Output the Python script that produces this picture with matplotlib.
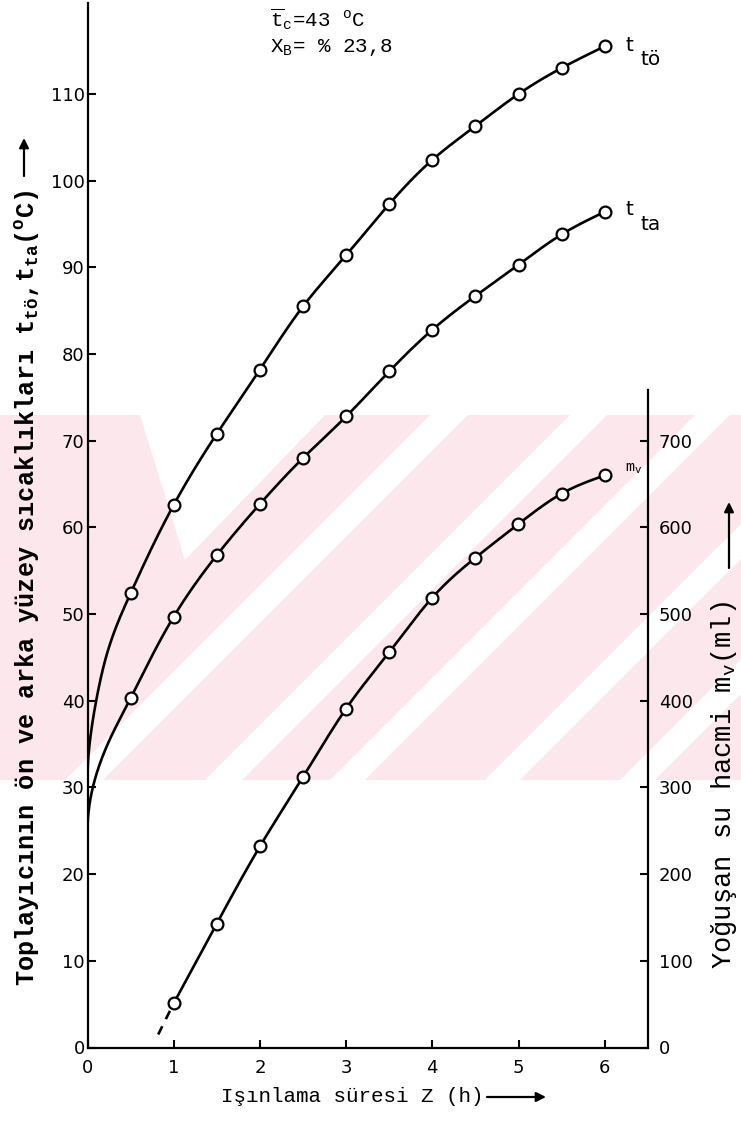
import numpy as np
import matplotlib
matplotlib.use("Agg")
import matplotlib.pyplot as plt
from matplotlib.patches import Rectangle, Polygon, FancyArrowPatch

# ---------------- data ----------------
x_t = [0.5, 1.0, 1.5, 2.0, 2.5, 3.0, 3.5, 4.0, 4.5, 5.0, 5.5, 6.0]
t_to = [52.4, 62.6, 70.8, 78.2, 85.5, 91.4, 97.3, 102.4, 106.3, 110.0, 113.0, 115.5]
t_ta = [40.3, 49.7, 56.8, 62.7, 68.0, 72.8, 78.0, 82.8, 86.7, 90.3, 93.8, 96.4]

# start of the hand-drawn curves near Z = 0 (traced, no markers)
t_to_lead_x = [0.0, 0.05, 0.13, 0.2, 0.38]
t_to_lead_y = [31.0, 37.0, 41.5, 44.5, 49.7]
t_ta_lead_x = [0.0, 0.05, 0.28]
t_ta_lead_y = [25.0, 29.5, 36.0]

x_m = [1.0, 1.5, 2.0, 2.5, 3.0, 3.5, 4.0, 4.5, 5.0, 5.5, 6.0]
m_v = [51, 143, 232, 312, 391, 456, 519, 565, 604, 639, 660]
m_v_ext_x = [0.82, 1.0]          # dashed extrapolation
m_v_ext_y = [15, 51]

x_ticks = [0, 1, 2, 3, 4, 5, 6]
left_ticks = [0, 10, 20, 30, 40, 50, 60, 70, 80, 90, 100, 110]
right_ticks = [0, 100, 200, 300, 400, 500, 600, 700]


# ---------------- helpers ----------------
def natural_spline(x, y, xn):
    x = np.asarray(x, float); y = np.asarray(y, float); xn = np.asarray(xn, float)
    n = len(x); h = np.diff(x)
    A = np.zeros((n, n)); r = np.zeros(n)
    A[0, 0] = 1; A[-1, -1] = 1
    for i in range(1, n - 1):
        A[i, i - 1] = h[i - 1]; A[i, i] = 2 * (h[i - 1] + h[i]); A[i, i + 1] = h[i]
        r[i] = 6 * ((y[i + 1] - y[i]) / h[i] - (y[i] - y[i - 1]) / h[i - 1])
    M = np.linalg.solve(A, r)
    i = np.clip(np.searchsorted(x, xn) - 1, 0, n - 2)
    hi = h[i]
    a = x[i + 1] - xn; b = xn - x[i]
    return (M[i] * a**3 / (6 * hi) + M[i + 1] * b**3 / (6 * hi)
            + (y[i] / hi - M[i] * hi / 6) * a + (y[i + 1] / hi - M[i + 1] * hi / 6) * b)


plt.rcParams['mathtext.fontset'] = 'custom'
plt.rcParams['mathtext.rm'] = 'Liberation Mono'
plt.rcParams['mathtext.it'] = 'Liberation Mono'
plt.rcParams['mathtext.bf'] = 'Liberation Mono:bold'
plt.rcParams['mathtext.sf'] = 'DejaVu Sans'

W, H = 741, 1122
fig = plt.figure(figsize=(W / 100, H / 100), dpi=100)


def fx(px):
    return px / W


def fy(py):
    return 1 - py / H


# ---------------- background watermark (pink band of the scan) ----------------
band_top, band_bot = 415, 780
pink = '#fce8ec'
rect = Rectangle((0, fy(band_bot)), 1, (band_bot - band_top) / H,
                 transform=fig.transFigure, facecolor=pink, edgecolor='none',
                 zorder=-5)
fig.add_artist(rect)
for c, w in [(845, 38), (985, 37), (1110, 35), (1265, 35), (1400, 35)]:
    pts = [(c - 360, 360), (c + w - 360, 360), (c + w - 840, 840), (c - 840, 840)]
    p = Polygon([(fx(a), fy(b)) for a, b in pts], closed=True,
                transform=fig.transFigure, facecolor='white', edgecolor='none',
                zorder=-4)
    fig.add_artist(p)
    p.set_clip_path(rect)
notch = Polygon([(fx(140), fy(415)), (fx(325), fy(415)), (fx(185), fy(560))],
                closed=True, transform=fig.transFigure, facecolor='white',
                edgecolor='none', zorder=-4)
fig.add_artist(notch)

# ---------------- axes ----------------
x0, x1 = 87.5, 647.8
ybot, ytop = 1047.5, 3
ax = fig.add_axes([fx(x0), fy(ybot), (x1 - x0) / W, (ybot - ytop) / H])
ax.patch.set_alpha(0)
ax.set_xlim(0, 6.5)
ax.set_ylim(0, 120.5)
ax2 = ax.twinx()
ax2.set_ylim(0, 1205)
ax2.patch.set_alpha(0)

for s in ['top', 'right']:
    ax.spines[s].set_visible(False)
for s in ['top', 'left', 'bottom']:
    ax2.spines[s].set_visible(False)
for sp in [ax.spines['left'], ax.spines['bottom'], ax2.spines['right']]:
    sp.set_linewidth(1.6)
ax2.spines['right'].set_bounds(0, 758)

tickfont = dict(family='DejaVu Sans', size=13)
ax.set_xticks(x_ticks)
ax.set_xticklabels([str(v) for v in x_ticks], **tickfont)
ax.set_yticks(left_ticks)
ax.set_yticklabels([str(v) for v in left_ticks], **tickfont)
ax2.set_yticks(right_ticks)
ax2.set_yticklabels([str(v) for v in right_ticks], **tickfont)
ax.tick_params(axis='x', direction='in', length=6, width=1.5, pad=8)
ax.tick_params(axis='y', direction='in', length=6, width=1.5, pad=2)
ax2.tick_params(axis='y', direction='in', length=6, width=1.5, pad=8)

# ---------------- curves ----------------
line_kw = dict(color='black', lw=1.9, solid_capstyle='round', zorder=3)
mk_kw = dict(linestyle='none', marker='o', markersize=8.5, markerfacecolor='white',
             markeredgecolor='black', markeredgewidth=1.6, zorder=4)

for lead_x, lead_y, pts in [(t_to_lead_x, t_to_lead_y, t_to),
                            (t_ta_lead_x, t_ta_lead_y, t_ta)]:
    cx = np.array(list(lead_x) + list(x_t))
    cy = np.array(list(lead_y) + list(pts))
    us = np.linspace(0, np.sqrt(cx.max()), 800)
    ax.plot(us**2, natural_spline(np.sqrt(cx), cy, us), **line_kw)
    ax.plot(x_t, pts, **mk_kw)

xs = np.linspace(min(x_m), max(x_m), 600)
ax2.plot(xs, natural_spline(x_m, m_v, xs), **line_kw)
ax2.plot(m_v_ext_x, m_v_ext_y, color='black', lw=1.9, linestyle=(0, (3.5, 3)), zorder=3)
ax2.plot(x_m, m_v, **mk_kw)

# ---------------- texts ----------------
sans = dict(family='DejaVu Sans', color='black')
ax.text(6.24, 115.6, 't', fontsize=14.5, va='center', ha='left', **sans)
ax.text(6.41, 114.0, 'tö', fontsize=14.5, va='center', ha='left', **sans)
ax.text(6.24, 96.7, 't', fontsize=14.5, va='center', ha='left', **sans)
ax.text(6.41, 94.9, 'ta', fontsize=14.5, va='center', ha='left', **sans)
mono = dict(family='Liberation Mono', color='black')
ax2.text(6.24, 668, r'm$_{\mathrm{v}}$', fontsize=11, va='center', ha='left', **mono)

ax.text(2.12, 118.6, r'$\overline{\mathrm{t}}_{\mathrm{c}}$=43 $^{\mathrm{o}}$C',
        fontsize=15, va='center', ha='left', **mono)
ax.text(2.12, 115.4, r'X$_{\mathrm{B}}$= % 23,8', fontsize=15, va='center',
        ha='left', **mono)

fig.text(fx(352), fy(1097), 'Işınlama süresi Z (h)', fontsize=15,
         ha='center', va='center', **mono)
fig.text(fx(28), fy(588),
         r'Toplayıcının ön ve arka yüzey sıcaklıkları t$_{\mathbf{tö}}$,t$_{\mathbf{ta}}$($^{\mathbf{o}}$C)',
         fontsize=18.2, rotation=90, ha='center', va='center',
         fontweight='bold', **mono)
fig.text(fx(724), fy(785), r'Yoğuşan su hacmi m$_{\mathrm{v}}$(ml)', fontsize=19.5,
         rotation=90, ha='center', va='center', **mono)

arrow = dict(arrowstyle='-|>', lw=1.6, color='black', mutation_scale=14,
             shrinkA=0, shrinkB=0)
fig.add_artist(FancyArrowPatch((fx(487), fy(1097)), (fx(546), fy(1097)),
                               transform=fig.transFigure, **arrow))
fig.add_artist(FancyArrowPatch((fx(24), fy(176)), (fx(24), fy(138)),
                               transform=fig.transFigure, **arrow))
fig.add_artist(FancyArrowPatch((fx(729), fy(568)), (fx(729), fy(502)),
                               transform=fig.transFigure, **arrow))

fig.savefig('out.png', dpi=100)
